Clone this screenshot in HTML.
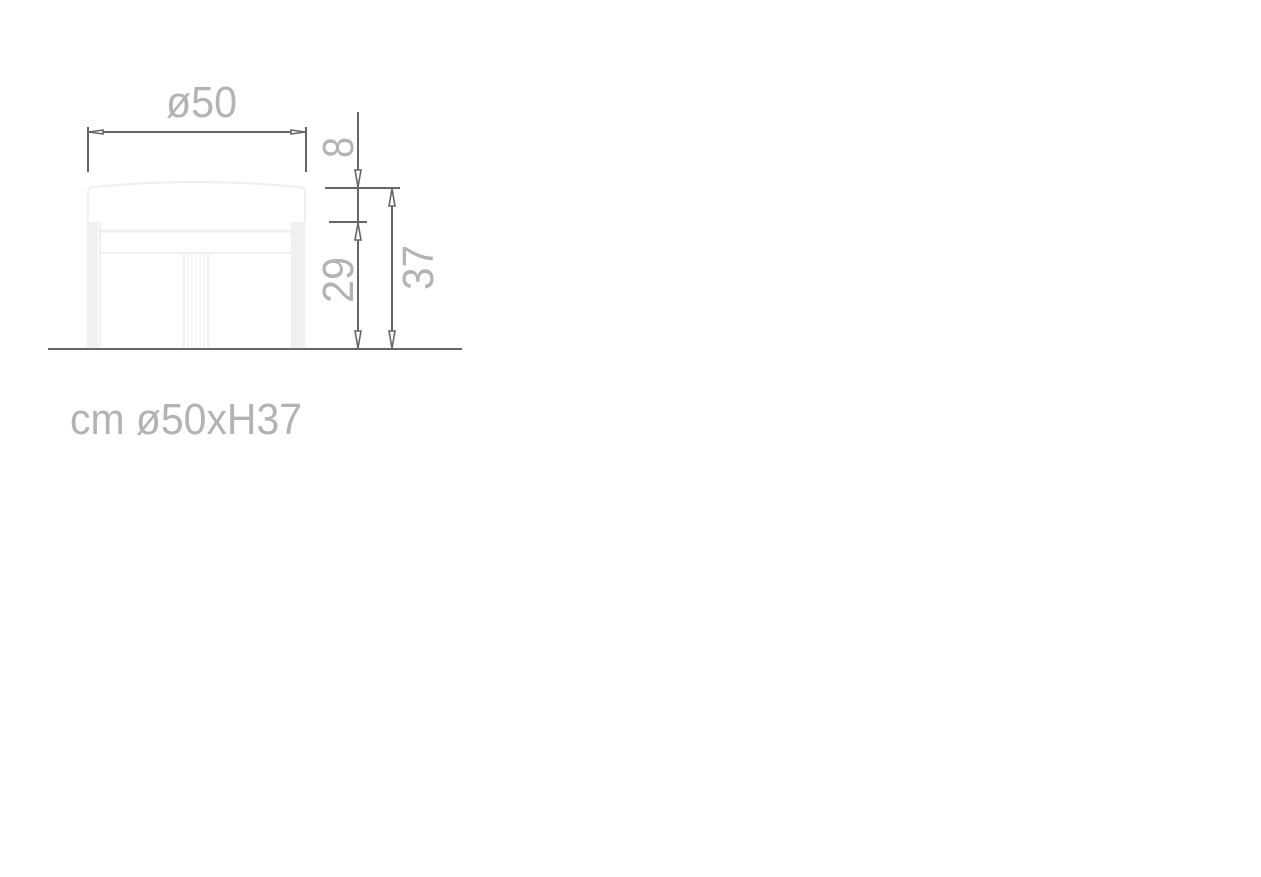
<!DOCTYPE html>
<html><head><style>html,body{margin:0;padding:0;background:#fff;}svg{display:block}</style></head>
<body>
<svg width="1261" height="877" viewBox="0 0 1261 877" xmlns="http://www.w3.org/2000/svg">
<g fill="none" stroke="#efefef" stroke-width="2">
  <path d="M88,222 L88,192 Q88,187 94,187 Q196,177 299,187 Q305,187 305,192 L305,222"/>
  <line x1="100" y1="231" x2="292" y2="231" stroke-width="3"/>
  <line x1="100" y1="253" x2="292" y2="253" stroke-width="2"/>
  <line x1="100" y1="222" x2="100" y2="349"/>
  <line x1="292" y1="222" x2="292" y2="349"/>
  <line x1="184" y1="253" x2="184" y2="349"/>
  <line x1="188" y1="253" x2="188" y2="349" stroke-width="1"/>
  <line x1="192" y1="253" x2="192" y2="349" stroke-width="1"/>
  <line x1="196" y1="253" x2="196" y2="349" stroke-width="1"/>
  <line x1="200" y1="253" x2="200" y2="349" stroke-width="1"/>
  <line x1="204" y1="253" x2="204" y2="349" stroke-width="1"/>
  <line x1="208" y1="253" x2="208" y2="349"/>
</g>
<rect x="87" y="222" width="11" height="127" fill="#f0f0f0"/>
<rect x="293" y="222" width="12" height="127" fill="#f0f0f0"/>
<g stroke="#666" stroke-width="2" fill="none">
  <line x1="48" y1="349" x2="462" y2="349"/>
  <line x1="88" y1="127" x2="88" y2="172"/>
  <line x1="306" y1="127" x2="306" y2="172"/>
  <line x1="88" y1="132" x2="306" y2="132"/>
  <line x1="358" y1="112" x2="358" y2="349"/>
  <line x1="392" y1="188" x2="392" y2="349"/>
  <line x1="325" y1="188" x2="400" y2="188"/>
  <line x1="329" y1="222" x2="367" y2="222"/>
</g>
<g stroke="#666" stroke-width="1.6" fill="#fff">
  <path d="M89,132 L103,130 L103,134 Z"/>
  <path d="M305,132 L291,130 L291,134 Z"/>
  <path d="M358,187 L355,170 L361,170 Z"/>
  <path d="M358,223 L355,240 L361,240 Z"/>
  <path d="M358,348 L355,331 L361,331 Z"/>
  <path d="M392,189 L389,206 L395,206 Z"/>
  <path d="M392,348 L389,331 L395,331 Z"/>
</g>
<g fill="#b3b3b3" font-family="Liberation Sans, sans-serif" font-size="44">
  <text x="166" y="117" textLength="71" lengthAdjust="spacingAndGlyphs">ø50</text>
  <text transform="translate(353,158) rotate(-90)" textLength="21" lengthAdjust="spacingAndGlyphs">8</text>
  <text transform="translate(353,303) rotate(-90)" textLength="46" lengthAdjust="spacingAndGlyphs">29</text>
  <text transform="translate(433,290) rotate(-90)" textLength="45" lengthAdjust="spacingAndGlyphs">37</text>
  <text x="70" y="434" textLength="232" lengthAdjust="spacingAndGlyphs">cm ø50xH37</text>
</g>
</svg>
</body></html>
